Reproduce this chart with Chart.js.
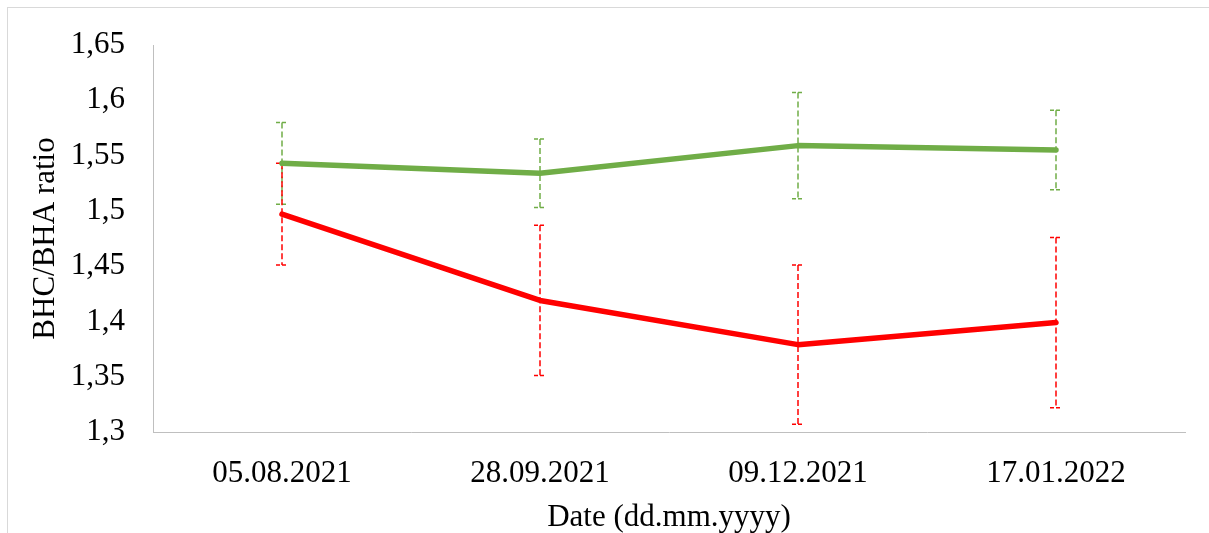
<!DOCTYPE html>
<html>
<head>
<meta charset="utf-8">
<script src="https://cdn.jsdelivr.net/npm/chart.js@4/dist/chart.umd.min.js"></script>
<style>
  html, body { margin: 0; padding: 0; background: #fff; overflow: hidden; }
  #wrap { position: relative; width: 1209px; height: 533px; }
  #frame { position: absolute; left: 7px; top: 7px; width: 1300px; height: 600px;
           border-left: 1px solid #d9d9d9; border-top: 1px solid #d9d9d9; }
  canvas { position: absolute; left: 0; top: 0; }
</style>
</head>
<body>
<div id="wrap">
  <div id="frame"></div>
  <canvas id="ratioChart" width="1209" height="533"></canvas>
</div>
<script>
const dates = ['05.08.2021', '28.09.2021', '09.12.2021', '17.01.2022'];
const greenSeries = [1.543, 1.534, 1.559, 1.555];
const greenErr = [0.037, 0.031, 0.048, 0.036];
const redSeries = [1.497, 1.419, 1.379, 1.399];
const redErr = [0.046, 0.068, 0.072, 0.077];
const yTicks = [1.3, 1.35, 1.4, 1.45, 1.5, 1.55, 1.6, 1.65];

// dashed error bars, drawn under the lines
const errorBars = {
  id: 'errorBars',
  beforeDatasetsDraw(chart) {
    const { ctx, scales: { x, y } } = chart;
    chart.data.datasets.forEach(ds => {
      ctx.save();
      ctx.strokeStyle = ds.borderColor;
      ctx.lineWidth = 1.5;
      ds.data.forEach((v, i) => {
        const px = x.getPixelForValue(i);
        const top = y.getPixelForValue(v + ds.errors[i]);
        const bot = y.getPixelForValue(v - ds.errors[i]);
        ctx.setLineDash([6, 3]);
        ctx.beginPath();
        ctx.moveTo(px, top);
        ctx.lineTo(px, bot);
        ctx.stroke();
        // caps
        ctx.setLineDash([4, 2]);
        ctx.beginPath();
        ctx.moveTo(px - 6, top);
        ctx.lineTo(px + 6, top);
        ctx.moveTo(px - 6, bot);
        ctx.lineTo(px + 6, bot);
        ctx.stroke();
      });
      ctx.restore();
    });
  }
};

const font = { family: '"Liberation Serif", "Times New Roman", serif', size: 31, lineHeight: 1 };

new Chart(document.getElementById('ratioChart').getContext('2d'), {
  type: 'line',
  data: {
    labels: dates,
    datasets: [
      { label: 'green', data: greenSeries, errors: greenErr, borderColor: '#70AD47',
        borderWidth: 5.5, pointRadius: 0, tension: 0, borderCapStyle: 'round', borderJoinStyle: 'round' },
      { label: 'red', data: redSeries, errors: redErr, borderColor: '#FF0000',
        borderWidth: 5.5, pointRadius: 0, tension: 0, borderCapStyle: 'round', borderJoinStyle: 'round' }
    ]
  },
  options: {
    responsive: false,
    animation: false,
    layout: { padding: { top: 45, right: 24, left: 0, bottom: 0 } },
    plugins: { legend: { display: false }, tooltip: { enabled: false } },
    scales: {
      x: {
        offset: true,
        grid: { display: false, drawTicks: false },
        border: { color: '#bfbfbf', width: 1 },
        ticks: { color: '#000', font, padding: 26, maxRotation: 0 },
        title: { display: true, text: 'Date (dd.mm.yyyy)', color: '#000', font, padding: 0 },
        afterFit(scale) { scale.height = 101; }
      },
      y: {
        min: 1.3,
        max: 1.65,
        afterBuildTicks(scale) { scale.ticks = yTicks.map(v => ({ value: v })); },
        grid: { display: false, drawTicks: false },
        border: { color: '#bfbfbf', width: 1 },
        ticks: {
          color: '#000', font, padding: 28,
          callback: v => String(Math.round(v * 100) / 100).replace('.', ',')
        },
        title: { display: true, text: 'BHC/BHA ratio', color: '#000', font, padding: { top: 30, bottom: 0 } },
        afterFit(scale) { scale.width = 153; }
      }
    }
  },
  plugins: [errorBars]
});
</script>
</body>
</html>
